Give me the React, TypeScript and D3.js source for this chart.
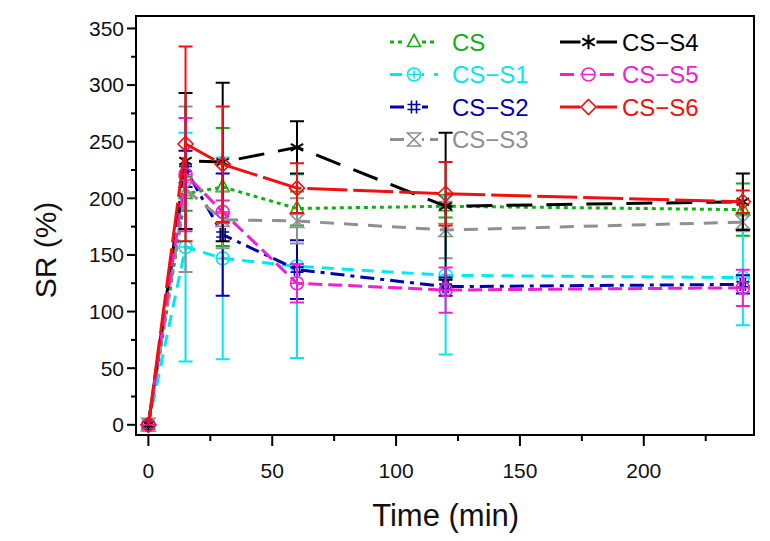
import React from "react";
import * as d3 from "d3";

const times = [0, 15, 30, 60, 120, 240];
const seriesNames = ["CS", "CS\u2212S1", "CS\u2212S2", "CS\u2212S3", "CS\u2212S4", "CS\u2212S5", "CS\u2212S6"];
const csVals = [0, 204, 210, 191, 193, 190];
const csErr = [0, 15, 52, 15, 10, 23];
const s1Vals = [0, 157, 147, 140, 132, 130];
const s1Err = [0, 101, 89, 81, 70, 42];
const s2Vals = [0, 226, 168, 137, 122, 124];
const s2Err = [0, 16, 54, 26, 8, 8];
const s3Vals = [0, 208, 181, 180, 172, 179];
const s3Err = [0, 73, 25, 20, 25, 8];
const s4Vals = [0, 233, 232, 245, 193, 197];
const s4Err = [0, 60, 70, 23, 65, 25];
const s5Vals = [0, 221, 188, 125, 119, 121];
const s5Err = [0, 50, 10, 17, 20, 16];
const s6Vals = [0, 248, 230, 209, 204, 197];
const s6Err = [0, 86, 51, 22, 28, 10];
const xTicks = [0, 50, 100, 150, 200];
const yTicks = [0, 50, 100, 150, 200, 250, 300, 350];

const colors = ["#10b010", "#00e8f0", "#0000b0", "#909090", "#000000", "#f020d0", "#f01010"];
const dashes = ["4,4", "12,8", "14,6,4,6", "14,10", "26,14", "14,6", "40,6"];
const legendDashes = ["4,4", "12,10", "14,10", "14,6", "", "14,6", ""];
const shapes = ["tri", "circPlus", "hash", "hour", "star", "circMinus", "diamond"];

const allVals = [csVals, s1Vals, s2Vals, s3Vals, s4Vals, s5Vals, s6Vals];
const allErr = [csErr, s1Err, s2Err, s3Err, s4Err, s5Err, s6Err];

const FONT = "'Liberation Sans', Arial, sans-serif";

function Marker({ shape, x, y, color }: { shape: string; x: number; y: number; color: string }) {
  const r = 6.5;
  const sw = 1.6;
  const common = { fill: "none", stroke: color, strokeWidth: sw };
  if (shape === "tri") {
    return <path d={`M${x},${y - r - 1}L${x + r},${y + r * 0.7}L${x - r},${y + r * 0.7}Z`} {...common} />;
  }
  if (shape === "circPlus") {
    return (
      <g {...common}>
        <circle cx={x} cy={y} r={r} />
        <path d={`M${x - r},${y}H${x + r}M${x},${y - r * 0.6}V${y + r * 0.6}`} />
      </g>
    );
  }
  if (shape === "circMinus") {
    return (
      <g {...common}>
        <circle cx={x} cy={y} r={r} />
        <path d={`M${x - r},${y}H${x + r}`} />
      </g>
    );
  }
  if (shape === "hash") {
    return (
      <path
        d={`M${x - 2.5},${y - r}V${y + r}M${x + 2.5},${y - r}V${y + r}M${x - r},${y - 2.5}H${x + r}M${x - r},${y + 2.5}H${x + r}`}
        {...common}
      />
    );
  }
  if (shape === "hour") {
    return <path d={`M${x - r},${y - r}H${x + r}L${x - r},${y + r}H${x + r}Z`} {...common} />;
  }
  if (shape === "star") {
    const a = r * 1.1;
    const lines = [90, 30, 150].map((deg) => {
      const t = (deg * Math.PI) / 180;
      return `M${x - a * Math.cos(t)},${y - a * Math.sin(t)}L${x + a * Math.cos(t)},${y + a * Math.sin(t)}`;
    });
    return <path d={lines.join("")} {...common} strokeWidth={2} />;
  }
  return <path d={`M${x},${y - r - 1}L${x + r + 1},${y}L${x},${y + r + 1}L${x - r - 1},${y}Z`} {...common} />;
}

export default function App() {
  const W = 770;
  const H = 541;
  const left = 136, right = 754, top = 16, bottom = 435;
  const x = d3.scaleLinear().domain([-5, 244.5]).range([left, right]);
  const y = d3.scaleLinear().domain([-9, 361]).range([bottom, top]);
  const line = d3
    .line<number>()
    .x((_, i) => x(times[i]))
    .y((d) => y(d));

  const minorX = d3.range(0, 250, 25).filter((v) => v % 50 !== 0);
  const minorY = d3.range(25, 360, 50);

  const legendRows = [
    { idx: 0, col: 0, row: 0 },
    { idx: 1, col: 0, row: 1 },
    { idx: 2, col: 0, row: 2 },
    { idx: 3, col: 0, row: 3 },
    { idx: 4, col: 1, row: 0 },
    { idx: 5, col: 1, row: 1 },
    { idx: 6, col: 1, row: 2 },
  ];

  return (
    <svg width={W} height={H} style={{ position: "absolute", left: 0, top: 0, background: "#fff" }} fontFamily={FONT}>
      <rect x={0} y={0} width={W} height={H} fill="#fff" />
      {/* legend (drawn beneath data, as in reference) */}
      {legendRows.map(({ idx, col, row }) => {
        const x0 = col === 0 ? 390 : 560;
        const x1 = col === 0 ? 438 : 617;
        const tx = col === 0 ? 452 : 622;
        const ly = 42 + row * 32.5;
        const mx = (x0 + x1) / 2;
        return (
          <g key={idx}>
            <line x1={x0} x2={x1} y1={ly} y2={ly} stroke={colors[idx]} strokeWidth={3} strokeDasharray={legendDashes[idx]} />
            <rect x={mx - 8} y={ly - 8} width={16} height={16} fill="#fff" />
            <Marker shape={shapes[idx]} x={mx} y={ly} color={colors[idx]} />
            <text x={tx} y={ly} dy="0.36em" fontSize={24} fill={colors[idx]}>
              {seriesNames[idx]}
            </text>
          </g>
        );
      })}
      {/* series */}
      {allVals.map((vals, si) => (
        <g key={si}>
          {vals.map((v, i) =>
            allErr[si][i] > 0 ? (
              <path
                key={i}
                d={`M${x(times[i])},${y(v - allErr[si][i])}V${y(v + allErr[si][i])}M${x(times[i]) - 7},${y(
                  v - allErr[si][i]
                )}h14M${x(times[i]) - 7},${y(v + allErr[si][i])}h14`}
                stroke={colors[si]}
                strokeWidth={2}
                fill="none"
              />
            ) : null
          )}
          <path d={line(vals) || ""} fill="none" stroke={colors[si]} strokeWidth={3} strokeDasharray={dashes[si]} />
          {vals.map((v, i) => (
            <Marker key={i} shape={shapes[si]} x={x(times[i])} y={y(v)} color={colors[si]} />
          ))}
        </g>
      ))}
      {/* frame */}
      <rect x={left} y={top} width={right - left} height={bottom - top} fill="none" stroke="#000" strokeWidth={2} />
      {/* y axis ticks */}
      {yTicks.map((t) => (
        <g key={t}>
          <line x1={left - 9} x2={left} y1={y(t)} y2={y(t)} stroke="#000" strokeWidth={2} />
          <text x={left - 12} y={y(t)} dy="0.35em" textAnchor="end" fontSize={21} fill="#111">
            {t}
          </text>
        </g>
      ))}
      {minorY.map((t) => (
        <line key={t} x1={left - 5} x2={left} y1={y(t)} y2={y(t)} stroke="#000" strokeWidth={2} />
      ))}
      {/* x axis ticks */}
      {xTicks.map((t) => (
        <g key={t}>
          <line x1={x(t)} x2={x(t)} y1={bottom} y2={bottom + 11} stroke="#000" strokeWidth={2} />
          <text x={x(t)} y={bottom + 43} textAnchor="middle" fontSize={21} fill="#111">
            {t}
          </text>
        </g>
      ))}
      {minorX.map((t) => (
        <line key={t} x1={x(t)} x2={x(t)} y1={bottom} y2={bottom + 6} stroke="#000" strokeWidth={2} />
      ))}
      {/* axis titles */}
      <text x={x(120)} y={526} textAnchor="middle" fontSize={31} fill="#111">
        Time (min)
      </text>
      <text transform={`translate(56, 250) rotate(-90)`} textAnchor="middle" fontSize={30} fill="#111">
        SR (%)
      </text>
    </svg>
  );
}
